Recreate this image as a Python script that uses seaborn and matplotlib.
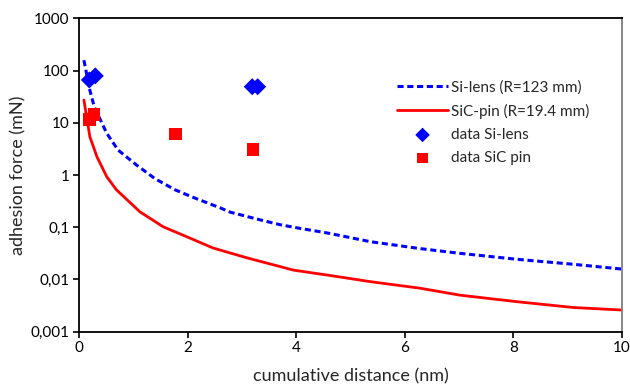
import matplotlib
matplotlib.use("Agg")
import matplotlib.pyplot as plt
import seaborn as sns
import pandas as pd

# Model curves
si_lens_x = [0.09, 0.20, 0.28, 0.51, 0.72, 1.06, 1.40, 1.77, 2.11, 2.60, 2.78, 3.34, 3.70, 4.07, 4.44, 4.62, 5.36, 6.28, 7.02, 8.07, 9.11, 10.0]
si_lens_y = [158, 42, 20.3, 6.3, 3.0, 1.55, 0.85, 0.52, 0.37, 0.235, 0.195, 0.138, 0.112, 0.095, 0.082, 0.076, 0.053, 0.039, 0.0316, 0.0243, 0.0195, 0.0158]

sic_pin_x = [0.09, 0.20, 0.33, 0.51, 0.69, 0.88, 1.12, 1.55, 1.98, 2.47, 3.09, 3.95, 4.44, 4.56, 5.36, 6.28, 7.02, 8.07, 9.11, 10.0]
sic_pin_y = [27.3, 5.4, 2.24, 0.93, 0.52, 0.34, 0.198, 0.102, 0.066, 0.040, 0.026, 0.0151, 0.0127, 0.0122, 0.0091, 0.0068, 0.0050, 0.00375, 0.0029, 0.0026]

# Measured data
data_si_x = [0.19, 0.30, 3.19, 3.29]
data_si_y = [66, 79, 49, 49]
data_sic_x = [0.19, 0.28, 1.78, 3.20]
data_sic_y = [11.6, 14.5, 6.1, 3.1]

y_ticks = [0.001, 0.01, 0.1, 1, 10, 100, 1000]
y_tick_labels = ["0,001", "0,01", "0,1", "1", "10", "100", "1000"]
x_ticks = [0, 2, 4, 6, 8, 10]

sns.set_style("ticks")
plt.rcParams["font.family"] = ["Lato", "DejaVu Sans"]

fig = plt.figure(figsize=(6.3, 3.87), dpi=100)
ax = fig.add_axes([0.1254, 0.1429, 0.8619, 0.8098])

df_si = pd.DataFrame({"x": si_lens_x, "y": si_lens_y})
df_sic = pd.DataFrame({"x": sic_pin_x, "y": sic_pin_y})
sns.lineplot(data=df_si, x="x", y="y", ax=ax, color="#0000FF", lw=2.2,
             linestyle=(0, (2.0, 1.2)), label="Si-lens (R=123 mm)", sort=False)
sns.lineplot(data=df_sic, x="x", y="y", ax=ax, color="#FF0000", lw=2.0,
             label="SiC-pin (R=19.4 mm)", sort=False)
sns.scatterplot(x=data_si_x, y=data_si_y, ax=ax, marker="D", s=75, color="#0000FF",
                edgecolor="none", label="data Si-lens", zorder=5)
sns.scatterplot(x=data_sic_x, y=data_sic_y, ax=ax, marker="s", s=80, color="#FF0000",
                edgecolor="none", label="data SiC pin", zorder=5)

ax.set_yscale("log")
ax.set_xlim(0, 10)
ax.set_ylim(0.001, 1000)
ax.set_yticks(y_ticks)
ax.set_yticklabels(y_tick_labels)
ax.minorticks_off()
ax.set_xticks(x_ticks)
ax.set_xticklabels([str(v) for v in x_ticks])
ax.tick_params(axis="both", labelsize=11, length=4, width=1.2, colors="black", pad=3)

ax.set_xlabel("cumulative distance (nm)", fontsize=13, labelpad=9)
ax.set_ylabel("adhesion force (mN)", fontsize=13, labelpad=3)

for side in ["left", "bottom", "top"]:
    ax.spines[side].set_color("black")
    ax.spines[side].set_linewidth(1.3)
ax.spines["right"].set_color("#7f7f7f")
ax.spines["right"].set_linewidth(1.3)

leg = ax.legend(loc="upper left", bbox_to_anchor=(0.575, 0.822), frameon=False,
                fontsize=11, handlelength=3.3, handletextpad=0.2, labelspacing=0.6,
                borderaxespad=0)
leg.legend_handles[2].set_sizes([55])
leg.legend_handles[3].set_sizes([60])

fig.savefig("out.png", dpi=100)
